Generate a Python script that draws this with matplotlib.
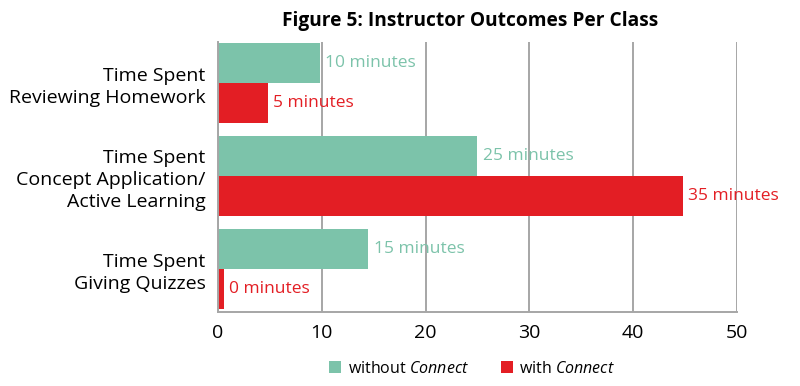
import numpy as np
import matplotlib.pyplot as plt

plt.rcParams['font.family'] = ['Open Sans', 'DejaVu Sans']
plt.rcParams['mathtext.fontset'] = 'custom'
plt.rcParams['mathtext.it'] = 'Open Sans:italic'
plt.rcParams['mathtext.rm'] = 'Open Sans'

# categories (top to bottom)
categories = ["Time Spent\nReviewing Homework",
              "Time Spent\nConcept Application/\nActive Learning",
              "Time Spent\nGiving Quizzes"]
# bar lengths as drawn in the picture
without_vals = [9.8, 25.0, 14.5]
with_vals = [4.8, 44.8, 0.6]
# annotation texts printed next to bars
without_labels = ["10 minutes", "25 minutes", "15 minutes"]
with_labels = ["5 minutes", "35 minutes", "0 minutes"]
xticks = [0, 10, 20, 30, 40, 50]

green = "#7cc3aa"
red = "#e31e24"

fig = plt.figure(figsize=(8, 3.86), dpi=100)
ax = fig.add_axes([0.2725, 0.192, 0.6487, 0.699])

y = np.arange(len(categories))
h = 0.43
ax.barh(y - h/2, without_vals, height=h, color=green, label="without $\\it{Connect}$")
ax.barh(y + h/2, with_vals, height=h, color=red, label="with $\\it{Connect}$")

for i in range(len(categories)):
    ax.text(without_vals[i] + 0.5, y[i] - h/2, without_labels[i], color=green,
            va="center", ha="left", fontsize=12.5)
    ax.text(with_vals[i] + 0.5, y[i] + h/2, with_labels[i], color=red,
            va="center", ha="left", fontsize=12.5)

ax.set_xlim(0, 50)
ax.set_ylim(2.46, -0.44)
ax.set_xticks(xticks)
ax.set_xticklabels([str(v) for v in xticks], fontsize=14)
ax.set_yticks(y)
ax.set_yticklabels(categories, fontsize=14, linespacing=1.3)
ax.tick_params(length=0, pad=9)
ax.tick_params(axis="x", pad=9)
ax.xaxis.grid(True, color="#a6a6a6", linewidth=1.4)
ax.set_axisbelow(True)
for s in ["top", "right"]:
    ax.spines[s].set_visible(False)
for s in ["left", "bottom"]:
    ax.spines[s].set_color("#a6a6a6")
    ax.spines[s].set_linewidth(1.4)

fig.text(0.588, 0.945, "Figure 5: Instructor Outcomes Per Class",
         ha="center", va="center", fontsize=13.8, fontweight="bold")

fig.legend(loc="center", bbox_to_anchor=(0.59, 0.045), ncol=2, frameon=False,
           fontsize=11.5, handlelength=0.75, handleheight=0.75, handletextpad=0.4,
           columnspacing=2)

fig.savefig("out.png")
